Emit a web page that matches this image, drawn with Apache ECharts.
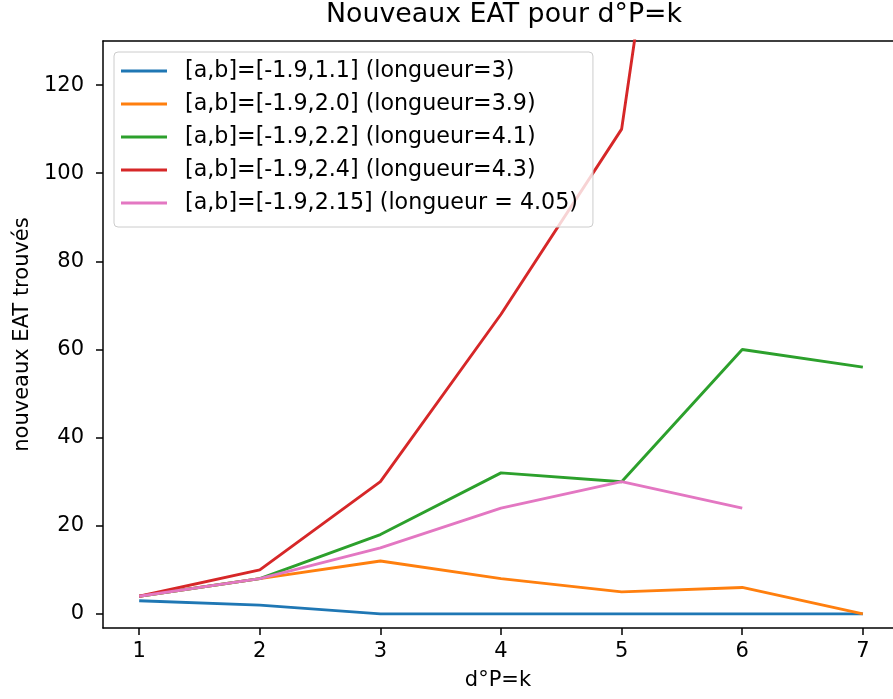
<!DOCTYPE html>
<html>
<head>
<meta charset="utf-8">
<script src="https://cdn.jsdelivr.net/npm/echarts@6/dist/echarts.min.js"></script>
<style>
  html, body { margin: 0; padding: 0; background: #fff; }
  #chart { width: 893px; height: 699px; }
</style>
</head>
<body>
<div id="chart"></div>
<script>
'use strict';

// degré de P
const degres = [1, 2, 3, 4, 5, 6, 7]
const xTicks = [1, 2, 3, 4, 5, 6, 7]
const yTicks = [0, 20, 40, 60, 80, 100, 120]

const noms = [
    '[a,b]=[-1.9,1.1] (longueur=3)',
    '[a,b]=[-1.9,2.0] (longueur=3.9)',
    '[a,b]=[-1.9,2.2] (longueur=4.1)',
    '[a,b]=[-1.9,2.4] (longueur=4.3)',
    '[a,b]=[-1.9,2.15] (longueur = 4.05)'
]
const eat11 = [3, 2, 0, 0, 0, 0, 0]
const eat20 = [4, 8, 12, 8, 5, 6, 0]
const eat22 = [4, 8, 18, 32, 30, 60, 56]
const eat24 = [4, 10, 30, 68, 110, 298]
const eat215 = [4, 8, 15, 24, 30, 24]
const couleurs = ['#1f77b4', '#ff7f0e', '#2ca02c', '#d62728', '#e377c2']

const police = 'DejaVu Sans'

function toPoints(vals) {
    return vals.map((v, i) => [degres[i], v])
}

const allSeries = [eat11, eat20, eat22, eat24, eat215].map((vals, i) => ({
    name: noms[i],
    type: 'line',
    data: toPoints(vals),
    symbol: 'none',
    clip: true,
    color: couleurs[i],
    lineStyle: { width: 2.9, color: couleurs[i] },
    z: 2
}))

const axeLigne = { show: true, onZero: false, lineStyle: { color: '#000', width: 1.5 } }

var myChart = echarts.init(document.getElementById('chart'))
myChart.setOption({
    animation: false,
    backgroundColor: '#fff',
    textStyle: { fontFamily: police },
    title: {
        text: 'Nouveaux EAT pour d°P=k',
        left: 326,
        top: 2,
        padding: 0,
        textStyle: { fontFamily: police, fontSize: 26.8, fontWeight: 'normal', color: '#000' }
    },
    // image coupée à droite : l'axe finit à 7.25 au bord
    grid: { left: 103, top: 41, right: 0, bottom: 71 },
    legend: {
        orient: 'vertical',
        left: 114,
        top: 52,
        padding: [8, 15, 13, 7],
        itemGap: 11,
        itemWidth: 46,
        itemHeight: 3,
        icon: 'rect',
        backgroundColor: 'rgba(255,255,255,0.8)',
        borderColor: '#cccccc',
        borderWidth: 1,
        borderRadius: 4,
        z: 10,
        textStyle: { fontFamily: police, fontSize: 22.2, lineHeight: 22, color: '#000', padding: [0, 0, 0, 13] },
        data: noms
    },
    xAxis: [{
        type: 'value',
        min: 0.7,
        max: 7.25,
        name: 'd°P=k',
        nameLocation: 'middle',
        nameGap: 42,
        nameTextStyle: { fontFamily: police, fontSize: 21, color: '#000' },
        axisLine: axeLigne,
        axisTick: { show: true, customValues: xTicks, length: 7, lineStyle: { color: '#000', width: 1.5 } },
        axisLabel: { customValues: xTicks, margin: 13, fontFamily: police, fontSize: 21, color: '#000' },
        splitLine: { show: false }
    }, {
        type: 'value',
        position: 'top',
        min: 0.7,
        max: 7.25,
        axisLine: axeLigne,
        axisTick: { show: false },
        axisLabel: { show: false },
        splitLine: { show: false }
    }],
    yAxis: {
        type: 'value',
        min: -3.2,
        max: 130,
        name: 'nouveaux EAT trouvés',
        nameLocation: 'middle',
        nameRotate: 90,
        nameGap: 70,
        nameTextStyle: { fontFamily: police, fontSize: 21, color: '#000' },
        axisLine: axeLigne,
        axisTick: { show: true, customValues: yTicks, length: 7, lineStyle: { color: '#000', width: 1.5 } },
        axisLabel: { customValues: yTicks, margin: 19, fontFamily: police, fontSize: 21, color: '#000' },
        splitLine: { show: false }
    },
    series: allSeries
})
</script>
</body>
</html>
